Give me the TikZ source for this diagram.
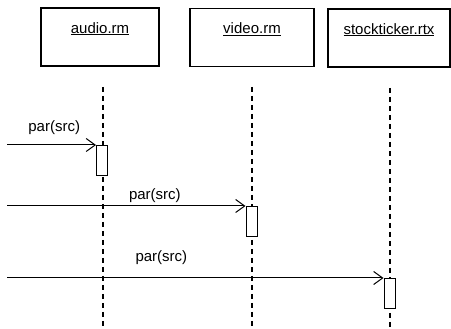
\documentclass[tikz,border=0pt]{standalone}
\usepackage{fontspec}
\setmainfont{Liberation Sans}
\usetikzlibrary{arrows,arrows.meta,positioning}

\begin{document}
\begin{tikzpicture}[x=1pt, y=-1pt, line width=1pt,
    >={Straight Barb[length=9pt,width=13pt]},
    font=\fontsize{15}{18}\selectfont,
    obj/.style={draw, line width=1.3pt, minimum height=58pt, inner sep=0pt},
    objname/.style={anchor=north, yshift=-11pt},
    act/.style={draw, fill=white, minimum width=11pt, minimum height=30pt,
                inner sep=0pt, anchor=north},
    life/.style={line width=1.1pt, dash pattern=on 5pt off 4pt}]
  \useasboundingbox (0,0) rectangle (451,329);

  \node[obj, minimum width=118pt,
        label={[objname]north:\underline{audio.rm}}] (audio) at (100,37) {};
  \node[obj, minimum width=124pt,
        label={[objname]north:\underline{video.rm}}] (video) at (252,37.5) {};
  \node[obj, minimum width=122pt,
        label={[objname]north:\underline{stockticker.rtx}}] (ticker) at (389,38) {};

  \coordinate (audiotop) at (103,87);
  \coordinate (audiobot) at (103,329);
  \coordinate (videotop) at (252,87);
  \coordinate (videobot) at (252,329);
  \coordinate (tickertop) at (390,88);
  \coordinate (tickerbot) at (390,329);
  \draw[life] (audiotop) -- (audiobot);
  \draw[life] (videotop) -- (videobot);
  \draw[life] (tickertop) -- (tickerbot);

  \node[act] (actA) at (102,145) {};
  \node[act] (actV) at (251.5,206) {};
  \node[act] (actT) at (389.5,278) {};

  \coordinate (srcA) at (7,145);
  \coordinate (srcV) at (7,206);
  \coordinate (srcT) at (7,278);
  \draw[->] (srcA) -- (actA.north west) node[pos=.53, above=7pt] {par(src)};
  \draw[->] (srcV) -- (actV.north west) node[pos=.62, above=0pt] {par(src)};
  \draw[->] (srcT) -- (actT.north west) node[pos=.41, above=10pt] {par(src)};
\end{tikzpicture}
\end{document}
